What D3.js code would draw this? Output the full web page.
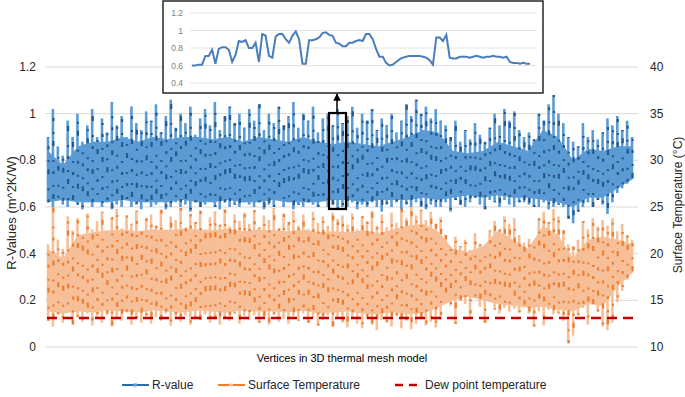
<!DOCTYPE html>
<html>
<head>
<meta charset="utf-8">
<script src="https://cdn.jsdelivr.net/npm/d3@7"></script>
<style>
  body { margin: 0; background: #fff; }
  svg { font-family: "Liberation Sans", Arial, sans-serif; }
</style>
</head>
<body>
<div id="chart"></div>
<script>
const width = 685;
const height = 397;

// left axis (R-value) and right axis (temperature) ticks
const leftTicks = [0, 0.2, 0.4, 0.6, 0.8, 1, 1.2];
const leftLabels = ["0", "0.2", "0.4", "0.6", "0.8", "1", "1.2"];
const rightTicks = [10, 15, 20, 25, 30, 35, 40];
const insetTicks = [0.4, 0.6, 0.8, 1, 1.2];
const insetLabels = ["0.4", "0.6", "0.8", "1", "1.2"];

// R-value spikes: peak and trough of each stripe
const rHigh = [0.9, 1.02, 0.86,
  0.82, 0.97, 0.9, 1.0, 0.88, 0.95, 1.02, 0.9,
  0.98, 0.92, 1.05, 0.95, 0.99, 0.9, 1.03, 0.96, 0.93, 1.01,
  0.97, 1.04, 0.92, 0.99, 1.06, 0.94, 1.0, 0.96, 1.03, 0.91, 0.98, 1.02, 0.95, 1.05, 0.93, 0.99, 1.03, 0.96, 1.0, 0.94,
  1.02, 0.97, 1.04, 0.93, 1.0, 0.96, 1.03, 0.95, 0.99, 1.05, 0.94, 1.0, 0.97, 1.03, 0.92, 0.98, 1.0, 0.95, 1.02, 0.96,
  0.99, 1.03, 0.94, 1.0, 0.97, 1.02, 0.93, 0.98, 0.95, 1.0, 0.92, 0.97, 1.04, 0.99, 1.06, 1.0, 1.03, 0.98, 1.02, 0.97,
  0.95, 0.9, 0.97, 0.88, 0.93, 0.89, 0.96, 0.91, 0.88, 0.94,
  1.0, 0.95, 1.02, 0.97, 1.01, 0.93,
  0.9, 0.92, 0.89,
  1.0, 0.97, 1.04, 1.08,
  1.0, 0.96, 0.9,
  0.88, 0.86,
  0.96, 0.9, 0.93, 0.89, 0.92,
  0.98, 0.95, 0.99, 0.93, 0.97, 0.9];
const rLow = [0.62, 0.6, 0.64, 0.61, 0.6, 0.63, 0.61, 0.59, 0.62, 0.6, 0.63,
  0.6, 0.62, 0.59, 0.61, 0.6, 0.63, 0.6, 0.61, 0.59, 0.62,
  0.6, 0.61, 0.63, 0.59, 0.6, 0.62, 0.6, 0.61, 0.58, 0.62, 0.6, 0.61, 0.63, 0.6, 0.59, 0.62, 0.6, 0.61, 0.6, 0.62,
  0.61, 0.6, 0.62, 0.59, 0.61, 0.6, 0.63, 0.6, 0.62, 0.59, 0.61, 0.6, 0.62, 0.61, 0.6, 0.63, 0.6, 0.61, 0.59, 0.6,
  0.6, 0.62, 0.59, 0.61, 0.6, 0.62, 0.6, 0.58, 0.61, 0.6, 0.62, 0.59, 0.61, 0.6, 0.62, 0.6, 0.59, 0.61, 0.6, 0.6,
  0.62, 0.58, 0.63, 0.61, 0.6, 0.62, 0.64, 0.61, 0.59, 0.63,
  0.62, 0.6, 0.63, 0.61, 0.6, 0.62,
  0.62, 0.61, 0.6,
  0.6, 0.62, 0.59, 0.6,
  0.61, 0.6, 0.55,
  0.53, 0.58,
  0.6, 0.62, 0.6, 0.63, 0.61,
  0.57, 0.62, 0.66, 0.68, 0.7, 0.72];

// solid core of the R-value band, sampled every ~15 px
const rCoreTop = [0.84, 0.78, 0.86, 0.88, 0.88, 0.9, 0.88, 0.9, 0.89, 0.9, 0.9, 0.89, 0.9, 0.88, 0.9, 0.89,
  0.88, 0.9, 0.88, 0.87, 0.88, 0.87, 0.86, 0.88, 0.9, 0.93, 0.92, 0.84, 0.83, 0.84, 0.88, 0.86, 0.84,
  0.93, 0.9, 0.8, 0.85, 0.84, 0.86, 0.86];
const rCoreBottom = [0.62, 0.63, 0.62, 0.62, 0.62, 0.63, 0.62, 0.62, 0.62, 0.63, 0.62, 0.62, 0.63, 0.62, 0.62,
  0.63, 0.62, 0.62, 0.62, 0.63, 0.63, 0.62, 0.63, 0.63, 0.63, 0.64, 0.63, 0.64, 0.65, 0.64, 0.65, 0.64,
  0.64, 0.63, 0.62, 0.6, 0.64, 0.64, 0.68, 0.72];

// surface temperature spikes (°C)
const tHigh = [21, 25, 21.5, 20.5, 24, 22.5, 23.8, 21.8, 24.3, 22.6, 23.5,
  24.5, 22.3, 23.9, 24.8, 22.7, 24.1, 23.2, 24.6, 22.4, 23.8,
  24.2, 23, 24.7, 22.5, 24.0, 23.6, 24.9, 22.8, 24.3, 23.4, 24.6, 22.6, 23.9, 24.5, 23.1, 24.8, 22.9, 24.2, 23.5, 24.4,
  23.2, 24.7, 22.8, 24.1, 23.6, 24.9, 22.7, 24.3, 23.4, 24.6, 23.0, 24.2, 22.6, 24.5, 23.3, 24.0, 22.9, 24.4, 23.7, 24.1,
  23.1, 24.3, 22.6, 24.0, 23.5, 24.6, 23.0, 24.2, 22.8, 24.4, 23.3, 24.9, 23.8, 25.0, 24.1, 24.7, 23.6, 24.5, 23.2, 23.9,
  22.0, 20.5, 21.8, 20.8, 21.5, 20.4, 22.2, 21.0, 20.6, 22.5,
  23.5, 22.6, 24.0, 23.2, 23.8, 22.0,
  21.2, 21.6, 20.9,
  23.8, 24.5, 23.4, 24.8,
  24.0, 22.5, 21.0,
  20.8, 21.5,
  23.5, 22.6, 23.8, 22.9, 23.6,
  23.0, 23.8, 22.4, 23.2, 22.0, 21.5];
const tLow = [12.8, 12.2, 13.5, 12.6, 13.8, 12.4, 13.2, 12.7, 13.6, 12.3, 13.0,
  12.6, 13.4, 12.2, 13.1, 12.8, 13.7, 12.4, 13.0, 12.6, 13.3,
  12.5, 13.2, 12.8, 13.6, 12.3, 13.0, 12.7, 13.4, 12.4, 13.1, 12.9, 13.5, 12.6, 13.2, 12.4, 13.0, 12.8, 13.6, 12.5, 13.3,
  12.9, 13.4, 12.6, 13.1, 12.4, 13.5, 12.7, 13.0, 12.5, 13.3, 12.8, 13.6, 12.6, 13.1, 12.3, 12.9, 13.4, 12.2, 13.0, 12.6,
  12.1, 13.2, 12.5, 12.0, 13.0, 12.4, 11.8, 12.9, 12.6, 12.2, 13.3, 12.0, 12.8, 11.9, 12.5, 13.1, 12.3, 12.7, 12.1, 12.9,
  15.2, 14.4, 12.5, 15.0, 14.6, 13.2, 15.4, 14.3, 12.6, 14.8,
  14.0, 13.6, 14.2, 13.8, 14.1, 13.7,
  14.3, 13.6, 12.2,
  13.8, 12.3, 14.0, 13.5,
  13.6, 12.8, 10.4,
  11.2, 13.4,
  14.2, 12.4, 14.6, 13.8, 12.2,
  11.8, 12.6, 14.8, 16.0, 17.2, 18.0];

// solid core of the temperature band (°C)
const tCoreTop = [20.5, 19.5, 22, 22.3, 22.5, 22.6, 22.4, 22.6, 22.5, 22.7, 22.6, 22.5, 22.7, 22.4, 22.6, 22.5,
  22.4, 22.6, 22.3, 22.4, 22.3, 22.5, 22.2, 22.6, 23.0, 23.2, 22.4, 20.5, 20.2, 20.8, 22.5, 21.5, 20.5,
  23.0, 22.0, 19.5, 21.5, 21.8, 21.5, 21.0];
const tCoreBottom = [13.8, 13.6, 13.8, 13.7, 13.9, 13.8, 13.7, 13.9, 13.8, 13.7, 13.9, 13.8, 13.7, 13.9, 13.8,
  13.8, 13.7, 13.9, 13.6, 13.7, 13.8, 13.6, 13.5, 13.7, 13.5, 13.6, 14.2, 15.0, 15.4, 15.0, 14.6, 14.4,
  14.2, 14.3, 14.0, 13.8, 14.6, 14.4, 16.5, 18.0];

const dewPoint = 13.1;

// zoomed detail of the R-value inside the black box
const insetR = [0.60, 0.60, 0.61, 0.61, 0.71, 0.71, 0.78, 0.62, 0.79, 0.81, 0.81, 0.78, 0.64, 0.72,
  0.88, 0.87, 0.89, 0.80, 0.80, 0.86, 0.64, 0.96, 0.94, 0.71, 0.69, 0.93, 0.96, 0.96, 0.90, 0.86,
  0.94, 0.99, 0.90, 0.62, 0.62, 0.89, 0.89, 0.90, 0.92, 0.97, 0.98, 0.95, 0.94, 0.86, 0.85, 0.82,
  0.82, 0.86, 0.86, 0.88, 0.89, 0.88, 0.96, 0.96, 0.90, 0.79, 0.70, 0.70, 0.63, 0.60, 0.61, 0.64,
  0.67, 0.69, 0.70, 0.71, 0.71, 0.71, 0.71, 0.70, 0.69, 0.66, 0.61, 0.92, 0.92, 0.88, 0.95, 0.69,
  0.68, 0.68, 0.70, 0.70, 0.70, 0.69, 0.70, 0.71, 0.70, 0.69, 0.70, 0.70, 0.71, 0.70, 0.70, 0.69,
  0.70, 0.64, 0.63, 0.63, 0.62, 0.63, 0.62, 0.62];

const svg = d3.select("#chart")
    .append("svg")
    .attr("width", width)
    .attr("height", height);

const x = d3.scaleLinear().domain([0, rHigh.length - 1]).range([48, 632]);
const xc = d3.scaleLinear().domain([0, rCoreTop.length - 1]).range([48, 633]);
const yL = d3.scaleLinear().domain([0, 1.2]).range([347, 67]);
const yR = d3.scaleLinear().domain([10, 40]).range([347, 67]);

// gridlines
svg.append("g")
    .selectAll("line")
    .data(leftTicks)
    .enter()
    .append("line")
    .attr("x1", 45).attr("x2", 638)
    .attr("y1", d => yL(d)).attr("y2", d => yL(d))
    .style("stroke", "#d9d9d9")
    .style("stroke-width", 1);

// left ticks
svg.append("g")
    .selectAll("text")
    .data(leftTicks)
    .enter()
    .append("text")
    .attr("x", 36)
    .attr("y", d => yL(d) + 4)
    .attr("text-anchor", "end")
    .style("font-size", "12px")
    .style("fill", "#262626")
    .text((d, i) => leftLabels[i]);

// right ticks
svg.append("g")
    .selectAll("text")
    .data(rightTicks)
    .enter()
    .append("text")
    .attr("x", 650)
    .attr("y", d => yR(d) + 4)
    .style("font-size", "12px")
    .style("fill", "#262626")
    .text(d => d);

svg.append("text")
    .attr("transform", "translate(16,213) rotate(-90)")
    .attr("text-anchor", "middle")
    .style("font-size", "13px")
    .style("fill", "#262626")
    .text("R-Values (m^2K/W)");

svg.append("text")
    .attr("transform", "translate(682,205) rotate(-90)")
    .attr("text-anchor", "middle")
    .style("font-size", "12px")
    .style("fill", "#262626")
    .text("Surface Temperature (°C)");

svg.append("text")
    .attr("x", 342)
    .attr("y", 362)
    .attr("text-anchor", "middle")
    .style("font-size", "11px")
    .style("fill", "#000")
    .text("Vertices in 3D thermal mesh model");

function drawSeries(high, low, coreTop, coreBottom, y, light, dark) {
    const g = svg.append("g");
    g.append("path")
        .datum(coreTop)
        .attr("d", d3.area()
            .x((d, i) => xc(i))
            .y0((d, i) => y(coreBottom[i]))
            .y1(d => y(d)))
        .style("fill", light);
    // one vertical stroke per stripe, trough to peak
    g.selectAll("line.stripe")
        .data(high)
        .enter()
        .append("line")
        .attr("class", "stripe")
        .attr("x1", (d, i) => x(i)).attr("x2", (d, i) => x(i))
        .attr("y1", (d, i) => y(low[i])).attr("y2", d => y(d))
        .style("stroke", light)
        .style("stroke-width", 2.6);
    // darker marker speckle
    g.selectAll("line.speck")
        .data(high)
        .enter()
        .append("line")
        .attr("class", "speck")
        .attr("x1", (d, i) => x(i) + 0.5).attr("x2", (d, i) => x(i) + 0.5)
        .attr("y1", (d, i) => y(low[i])).attr("y2", d => y(d))
        .style("stroke", dark)
        .style("stroke-width", 2.2)
        .style("stroke-dasharray", "3,9,2,14,5,7,2,11")
        .style("stroke-dashoffset", (d, i) => (i * i * 7 + i * 13) % 53);
}

drawSeries(tHigh, tLow, tCoreTop, tCoreBottom, yR, "#f6bf98", "#ed7d31");
drawSeries(rHigh, rLow, rCoreTop, rCoreBottom, yL, "#5b9bd5", "#26598a");

// dew point line
svg.append("line")
    .attr("x1", 47).attr("x2", 638)
    .attr("y1", yR(dewPoint)).attr("y2", yR(dewPoint))
    .style("stroke", "#c00000")
    .style("stroke-width", 2.5)
    .style("stroke-dasharray", "10,6");

// highlighted box and arrow to inset
svg.append("rect")
    .attr("x", 329).attr("y", 113)
    .attr("width", 17).attr("height", 96)
    .style("fill", "none")
    .style("stroke", "#000")
    .style("stroke-width", 2.2);

svg.append("defs").append("marker")
    .attr("id", "arrow")
    .attr("viewBox", "0 0 10 10")
    .attr("refX", 9).attr("refY", 5)
    .attr("markerWidth", 5).attr("markerHeight", 5)
    .attr("orient", "auto")
    .append("path")
    .attr("d", "M0,0L10,5L0,10z")
    .style("fill", "#000");

svg.append("line")
    .attr("x1", 337).attr("x2", 337)
    .attr("y1", 112).attr("y2", 94)
    .style("stroke", "#000")
    .style("stroke-width", 1.5)
    .attr("marker-end", "url(#arrow)");

// inset
const inset = svg.append("g");
inset.append("rect")
    .attr("x", 163).attr("y", 1)
    .attr("width", 380).attr("height", 92)
    .style("fill", "#fff")
    .style("stroke", "#262626")
    .style("stroke-width", 1.5);

const ix = d3.scaleLinear().domain([0, insetR.length - 1]).range([192, 530]);
const iy = d3.scaleLinear().domain([0.4, 1.2]).range([83, 13]);

inset.selectAll("line.grid")
    .data(insetTicks)
    .enter()
    .append("line")
    .attr("x1", 190).attr("x2", 537)
    .attr("y1", d => iy(d)).attr("y2", d => iy(d))
    .style("stroke", "#e3e3e3")
    .style("stroke-width", 1);

inset.selectAll("text")
    .data(insetTicks)
    .enter()
    .append("text")
    .attr("x", 183)
    .attr("y", d => iy(d) + 3)
    .attr("text-anchor", "end")
    .style("font-size", "8.5px")
    .style("fill", "#808080")
    .text((d, i) => insetLabels[i]);

inset.append("path")
    .datum(insetR)
    .attr("d", d3.line().x((d, i) => ix(i)).y(d => iy(d)))
    .style("fill", "none")
    .style("stroke", "#4a7ebb")
    .style("stroke-width", 2);

// legend
const legendItems = [
    { name: "R-value", x: 122, color: "#2e6aa8", marker: "#5b9bd5", dash: null },
    { name: "Surface Temperature", x: 218, color: "#ed7d31", marker: "#f6bf98", dash: null },
    { name: "Dew point temperature", x: 395, color: "#c00000", marker: null, dash: "8,6" }
];

const legend = svg.append("g");
legendItems.forEach(item => {
    legend.append("line")
        .attr("x1", item.x).attr("x2", item.x + 27)
        .attr("y1", 385).attr("y2", 385)
        .style("stroke", item.color)
        .style("stroke-width", item.dash ? 2.5 : 2)
        .style("stroke-dasharray", item.dash);
    if (item.marker) {
        legend.append("rect")
            .attr("x", item.x + 11).attr("y", 383.5)
            .attr("width", 4).attr("height", 3)
            .style("fill", item.marker);
    }
    legend.append("text")
        .attr("x", item.x + 30)
        .attr("y", 389)
        .style("font-size", "12px")
        .style("fill", "#262626")
        .text(item.name);
});
</script>
</body>
</html>
